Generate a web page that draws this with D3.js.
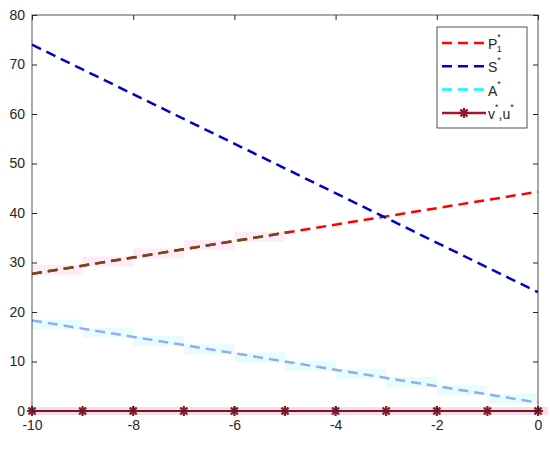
<!DOCTYPE html>
<meta charset="utf-8">
<script src="https://d3js.org/d3.v7.min.js"></script>
<style>
body { margin: 0; background: #fff; }
text { font-family: "Liberation Sans", Arial, sans-serif; fill: #262626; }
.tick text { font-size: 14px; }
</style>
<body>
<script>
// values
var xEnds = [-10, 0];
var p1 = [27.7, 44.3];
var s = [74.0, 24.0];
var a = [18.3, 1.7];
var vuX = [-10, -9, -8, -7, -6, -5, -4, -3, -2, -1, 0];
var vu = [0, 0, 0, 0, 0, 0, 0, 0, 0, 0, 0];
var xTicks = [-10, -8, -6, -4, -2, 0];
var yTicks = [0, 10, 20, 30, 40, 50, 60, 70, 80];
var brownEnd = -4.9;   // brownish overlay on P1 stops here

var width = 550, height = 449;
var mLeft = 32, mRight = 538, mTop = 15, mBottom = 411;

var x = d3.scaleLinear().domain([-10, 0]).range([mLeft, mRight]);
var y = d3.scaleLinear().domain([0, 80]).range([mBottom, mTop]);

var svg = d3.select("body").append("svg")
    .attr("width", width)
    .attr("height", height);

function lineAt(v0, v1, t) { return v0 + (v1 - v0) * (t - xEnds[0]) / (xEnds[1] - xEnds[0]); }

// faint stepped bands (rendering artefacts in the source)
var steps = d3.range(-10, 0, 1);
svg.append("g").selectAll("rect")
    .data(steps.filter(function(d) { return d < -5; }))
  .enter().append("rect")
    .attr("x", function(d) { return x(d); })
    .attr("width", function(d) { return x(d + 1) - x(d); })
    .attr("y", function(d) { return y(lineAt(p1[0], p1[1], d + 0.5)) - 5; })
    .attr("height", 10)
    .style("fill", "#fdebf8");

svg.append("g").selectAll("rect")
    .data(steps)
  .enter().append("rect")
    .attr("x", function(d) { return x(d); })
    .attr("width", function(d) { return x(d + 1) - x(d); })
    .attr("y", function(d) { return y(lineAt(a[0], a[1], d + 0.5)) - 5; })
    .attr("height", 10)
    .style("fill", "#e8fcfd");

svg.append("rect")
    .attr("x", mLeft).attr("width", mRight - mLeft + 10)
    .attr("y", y(0) - 4).attr("height", 8)
    .style("fill", "#fbdbe8");

var line = d3.line()
    .x(function(p) { return x(p[0]); })
    .y(function(p) { return y(p[1]); });

function dashed(pts, color) {
  svg.append("path")
      .attr("d", line(pts))
      .style("fill", "none")
      .style("stroke", color)
      .style("stroke-width", 2.5)
      .style("stroke-dasharray", "10,6");
}

dashed([[xEnds[0], p1[0]], [xEnds[1], p1[1]]], "#ff0000");
dashed([[xEnds[0], p1[0]], [brownEnd, lineAt(p1[0], p1[1], brownEnd)]], "#6e4a1e");
dashed([[xEnds[0], s[0]], [xEnds[1], s[1]]], "#0000cc");
dashed([[xEnds[0], a[0]], [xEnds[1], a[1]]], "#8cb0ee");

// v*,u* solid line with star markers
svg.append("path")
    .attr("d", line(vuX.map(function(v, i) { return [v, vu[i]]; })))
    .style("fill", "none")
    .style("stroke", "#8e1a2c")
    .style("stroke-width", 2);

function drawStar(g, cx, cy) {
  var st = g.append("g").attr("transform", "translate(" + cx + "," + cy + ")");
  [0, 45, 90, 135].forEach(function(ang) {
    st.append("line")
        .attr("x1", -5).attr("x2", 5)
        .attr("transform", "rotate(" + ang + ")")
        .style("stroke", "#8b1a2a")
        .style("stroke-width", 2.2);
  });
  st.append("circle").attr("r", 2.5).style("fill", "#8b1a2a");
}
var mk = svg.append("g");
vuX.forEach(function(v, i) { drawStar(mk, x(v), y(vu[i])); });

// axes box and ticks
var axisColor = "#262626";
svg.append("rect")
    .attr("x", mLeft).attr("y", mTop)
    .attr("width", mRight - mLeft).attr("height", mBottom - mTop)
    .style("fill", "none").style("stroke", axisColor).style("stroke-width", 1)
    .style("stroke-opacity", 0.8);

var fmt = function(d) { return String(d); };   // plain hyphen minus like the source
var gx = svg.append("g").attr("transform", "translate(0," + mBottom + ")")
    .call(d3.axisBottom(x).tickValues(xTicks).tickSize(-5).tickPadding(9).tickFormat(fmt));
var gxt = svg.append("g").attr("transform", "translate(0," + mTop + ")")
    .call(d3.axisTop(x).tickValues(xTicks).tickSize(-5).tickFormat(""));
var gy = svg.append("g").attr("transform", "translate(" + mLeft + ",0)")
    .call(d3.axisLeft(y).tickValues(yTicks).tickSize(-5).tickPadding(7).tickFormat(fmt));
var gyr = svg.append("g").attr("transform", "translate(" + mRight + ",0)")
    .call(d3.axisRight(y).tickValues(yTicks).tickSize(-5).tickFormat(""));
[gx, gxt, gy, gyr].forEach(function(g) {
  g.select(".domain").remove();
  g.selectAll(".tick line").style("stroke", axisColor);
  g.selectAll(".tick text").style("fill", axisColor)
      .style("font-family", "'Liberation Sans', Arial, sans-serif")
      .style("font-size", "14px");
});

// legend
var lg = svg.append("g");
lg.append("rect")
    .attr("x", 437).attr("y", 27).attr("width", 90).attr("height", 101)
    .style("fill", "#fff").style("stroke", axisColor).style("stroke-width", 0.8);

var entries = [
  { base: "P", sub: "1", color: "#ff0000", dash: true },
  { base: "S", color: "#0000cc", dash: true },
  { base: "A", color: "#00ffff", dash: true },
  { base: "v,u", color: "#a2142f", dash: false }
];
entries.forEach(function(e, i) {
  var ly = 43 + i * 23.3;
  lg.append("line")
      .attr("x1", 442).attr("x2", 486).attr("y1", ly).attr("y2", ly)
      .style("stroke", e.color).style("stroke-width", 2.5)
      .style("stroke-dasharray", e.dash ? "10,6" : null);
  if (!e.dash) drawStar(lg, 464, ly);
  var t = lg.append("text").attr("x", 488).attr("y", ly + 6).style("font-size", "14px");
  if (e.base === "v,u") {
    t.append("tspan").text("v");
    t.append("tspan").attr("dy", -9).style("font-size", "9px").text("*");
    t.append("tspan").attr("dy", 9).text(",u");
    t.append("tspan").attr("dy", -9).style("font-size", "9px").text("*");
  } else {
    t.append("tspan").text(e.base);
    t.append("tspan").attr("dy", -9).style("font-size", "9px").text("*");
    if (e.sub) {
      t.append("tspan").attr("dx", -4).attr("dy", 12).style("font-size", "9px").text(e.sub);
    }
  }
});
</script>
</body>
</html>
